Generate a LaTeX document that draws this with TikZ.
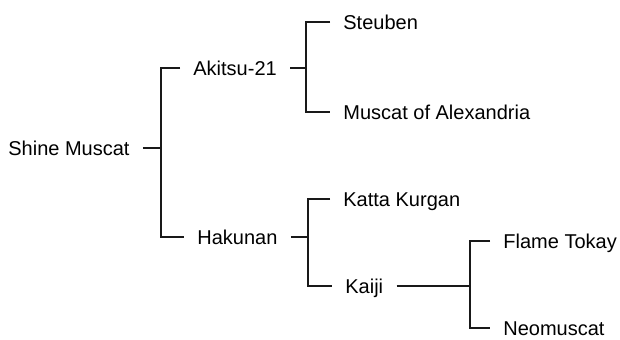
\documentclass[tikz,border=0pt]{standalone}
\usepackage{fontspec}
\setmainfont{Liberation Sans}
\usetikzlibrary{positioning}
\tikzset{
    cultivar/.style={
        anchor=west, inner xsep=6.5pt, inner ysep=0pt,
        text height=0.72em, text depth=0pt,
        font=\fontsize{10}{12}\selectfont
    },
    branch/.style={draw=black!90, line width=1.2pt}
}
\begin{document}
\begin{tikzpicture}[x=0.5pt, y=-0.5pt]

\useasboundingbox (0,0) rectangle (620,339);

% Root
\node[cultivar] (shine) at (-5,148) {Shine Muscat};

% Parents
\node[cultivar] (akitsu) at (180,68) {Akitsu-21};
\node[cultivar] (hakunan) at (184,237) {Hakunan};

% Grandparents
\node[cultivar] (steuben) at (330,22) {Steuben};
\node[cultivar] (alex) at (330,112) {Muscat of Alexandria};
\node[cultivar] (katta) at (330,199) {Katta Kurgan};
\node[cultivar] (kaiji) at (332,286) {Kaiji};

% Kaiji's parents
\node[cultivar] (flame) at (490,241) {Flame Tokay};
\node[cultivar] (neo) at (490,328) {Neomuscat};

% Junctions
\coordinate (j1) at (161,148);
\coordinate (j2) at (306,68);
\coordinate (j3) at (308,237);
\coordinate (j4) at (470,286);

\draw[branch] (shine.east) -- (j1);
\draw[branch] (akitsu.west) -| (j1) |- (hakunan.west);

\draw[branch] (akitsu.east) -- (j2);
\draw[branch] (steuben.west) -| (j2) |- (alex.west);

\draw[branch] (hakunan.east) -- (j3);
\draw[branch] (katta.west) -| (j3) |- (kaiji.west);

\draw[branch] (kaiji.east) -- (j4);
\draw[branch] (flame.west) -| (j4) |- (neo.west);

\end{tikzpicture}
\end{document}
